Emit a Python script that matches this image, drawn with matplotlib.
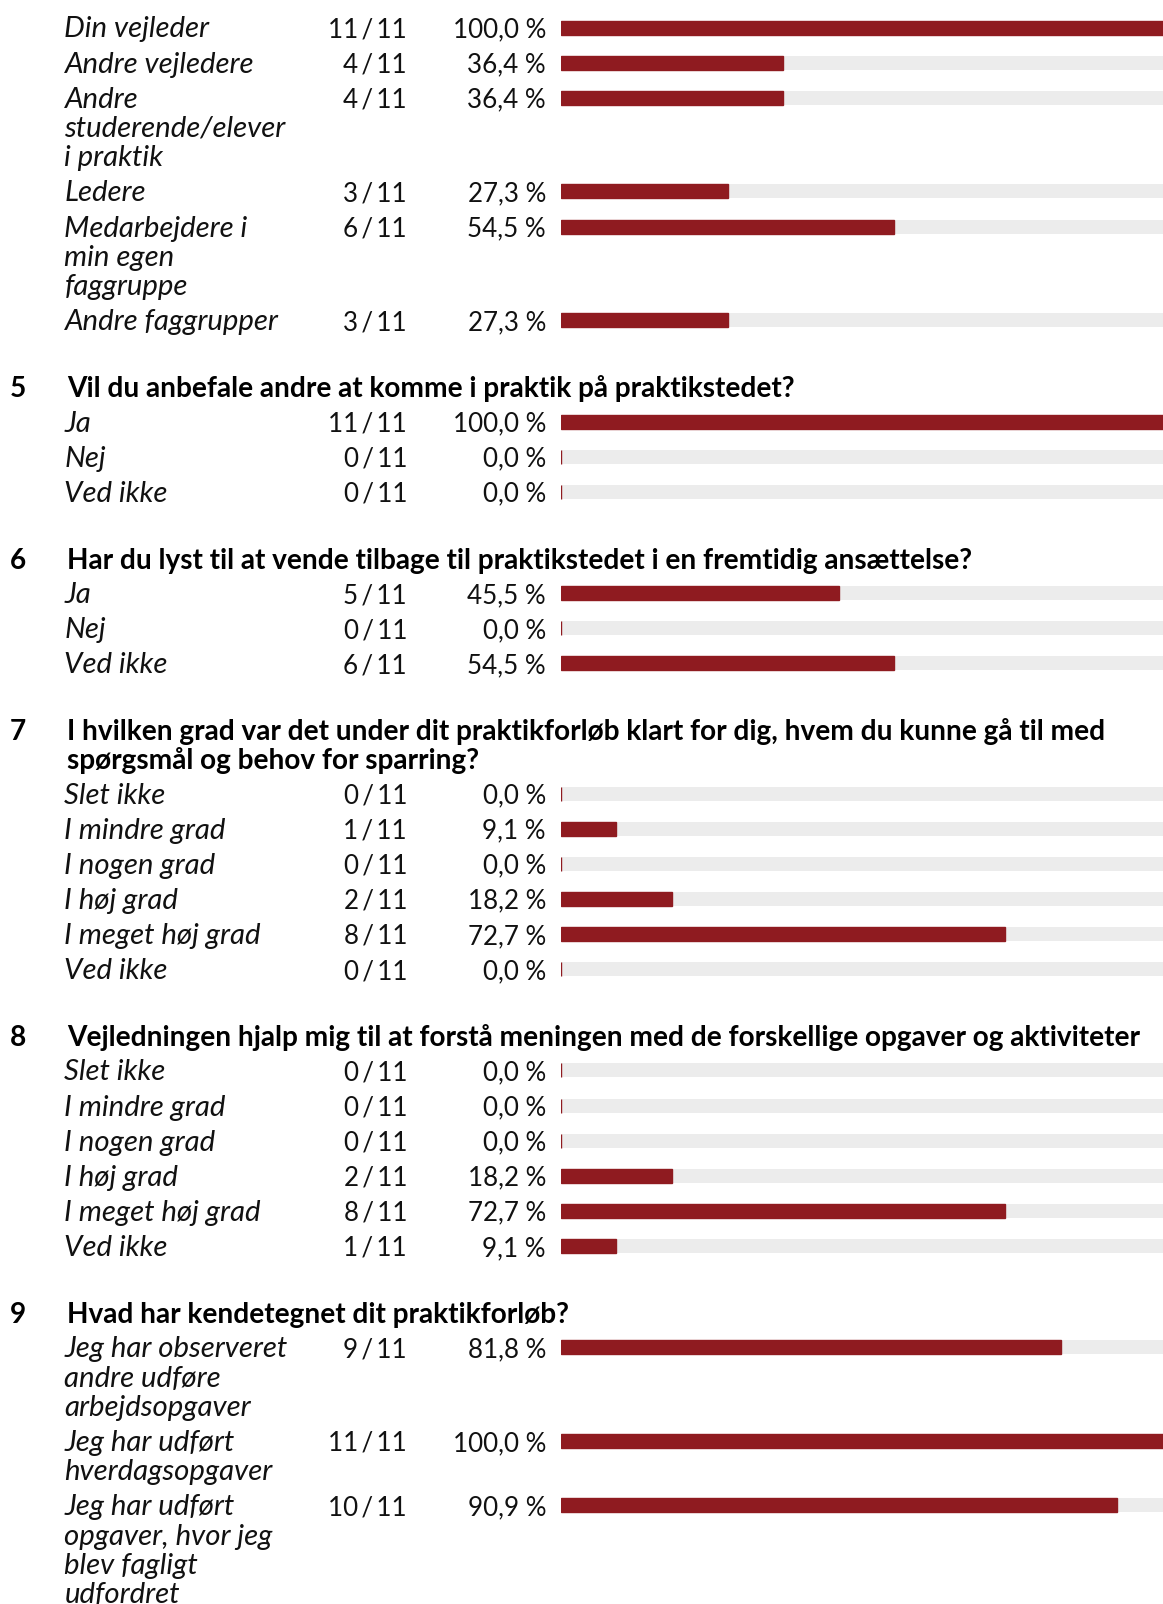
import matplotlib
matplotlib.use("Agg")
import matplotlib.pyplot as plt

FONT = "Lato"
RED = "#8f1b20"
GREY = "#ececec"

n_total = 11

# spørgsmål 4 (overskriften er skåret af i billedet)
q4_labels = ["Din vejleder", "Andre vejledere", "Andre\nstuderende/elever\ni praktik",
             "Ledere", "Medarbejdere i\nmin egen\nfaggruppe", "Andre faggrupper"]
q4_counts = [11, 4, 4, 3, 6, 3]
q4_pct = [100.0, 36.4, 36.4, 27.3, 54.5, 27.3]

q5_title = "Vil du anbefale andre at komme i praktik på praktikstedet?"
q5_labels = ["Ja", "Nej", "Ved ikke"]
q5_counts = [11, 0, 0]
q5_pct = [100.0, 0.0, 0.0]

q6_title = "Har du lyst til at vende tilbage til praktikstedet i en fremtidig ansættelse?"
q6_labels = ["Ja", "Nej", "Ved ikke"]
q6_counts = [5, 0, 6]
q6_pct = [45.5, 0.0, 54.5]

q7_title = ("I hvilken grad var det under dit praktikforløb klart for dig, hvem du kunne gå til med\n"
            "spørgsmål og behov for sparring?")
q7_labels = ["Slet ikke", "I mindre grad", "I nogen grad", "I høj grad", "I meget høj grad", "Ved ikke"]
q7_counts = [0, 1, 0, 2, 8, 0]
q7_pct = [0.0, 9.1, 0.0, 18.2, 72.7, 0.0]

q8_title = "Vejledningen hjalp mig til at forstå meningen med de forskellige opgaver og aktiviteter"
q8_labels = ["Slet ikke", "I mindre grad", "I nogen grad", "I høj grad", "I meget høj grad", "Ved ikke"]
q8_counts = [0, 0, 0, 2, 8, 1]
q8_pct = [0.0, 0.0, 0.0, 18.2, 72.7, 9.1]

q9_title = "Hvad har kendetegnet dit praktikforløb?"
q9_labels = ["Jeg har observeret\nandre udføre\narbejdsopgaver",
             "Jeg har udført\nhverdagsopgaver",
             "Jeg har udført\nopgaver, hvor jeg\nblev fagligt\nudfordret"]
q9_counts = [9, 11, 10]
q9_pct = [81.8, 100.0, 90.9]

sections = [
    (None, None, q4_labels, q4_counts, q4_pct),
    ("5", q5_title, q5_labels, q5_counts, q5_pct),
    ("6", q6_title, q6_labels, q6_counts, q6_pct),
    ("7", q7_title, q7_labels, q7_counts, q7_pct),
    ("8", q8_title, q8_labels, q8_counts, q8_pct),
    ("9", q9_title, q9_labels, q9_counts, q9_pct),
]

# layout i pixels
W, H = 1163, 1604
BAR_X0, BAR_W = 560.5, 612
LABEL_X, COUNT_X, PCT_X = 64.5, 407, 546
NUM_X, TITLE_X = 10, 67
Y0 = 27.5
ROW = 35.1
WRAP = 29.3
TITLE_LINE = 28.7
TITLE_GAP = 34.6
SECTION_GAP = 31.7
BASE = 10  # baseline under bar center
BAR_H = 14

fig = plt.figure(figsize=(W / 100, H / 100), dpi=100)
ax = fig.add_axes([0, 0, 1, 1])
ax.set_xlim(0, W)
ax.set_ylim(H, 0)
ax.axis("off")

bx = fig.add_axes([BAR_X0 / W, 0, BAR_W / W, 1])
bx.set_xlim(0, 100)
bx.set_ylim(H, 0)
bx.axis("off")

renderer = fig.canvas.get_renderer()


def fit_size(s, target, **kw):
    t = ax.text(0, 0, s, fontsize=20, family=FONT, **kw)
    w = t.get_window_extent(renderer).width
    t.remove()
    return 20 * target / w


fs_label = fit_size("Andre faggrupper", 214, style="italic")
fs_num = fit_size("100,0 %", 94)
fs_title = fit_size(q8_title, 1071, weight="bold")

y = Y0
for num, title, labels, counts, pct in sections:
    if title:
        y += SECTION_GAP
        ax.text(NUM_X, y + BASE, num, family=FONT, weight="bold", fontsize=fs_title,
                va="baseline", ha="left")
        lines = title.split("\n")
        for j, line in enumerate(lines):
            ax.text(TITLE_X, y + j * TITLE_LINE + BASE, line, family=FONT, weight="bold",
                    fontsize=fs_title, va="baseline", ha="left")
        y += (len(lines) - 1) * TITLE_LINE + TITLE_GAP
    for label, c, p in zip(labels, counts, pct):
        lines = label.split("\n")
        for j, line in enumerate(lines):
            ax.text(LABEL_X, y + j * WRAP + BASE, line, family=FONT, style="italic",
                    fontsize=fs_label, va="baseline", ha="left", color="#111111")
        ax.text(COUNT_X, y + BASE, f"{c}\u2009/\u2009{n_total}", family=FONT, fontsize=fs_num,
                va="baseline", ha="right", color="#111111")
        ax.text(PCT_X, y + BASE, f"{p:.1f} %".replace(".", ","), family=FONT, fontsize=fs_num,
                va="baseline", ha="right", color="#111111")
        bx.barh(y, 100, height=BAR_H, color=GREY, linewidth=0)
        bx.barh(y, p, height=BAR_H, color=RED, edgecolor=RED, linewidth=1)
        y += ROW + (len(lines) - 1) * WRAP

fig.savefig("out.png", dpi=100)
